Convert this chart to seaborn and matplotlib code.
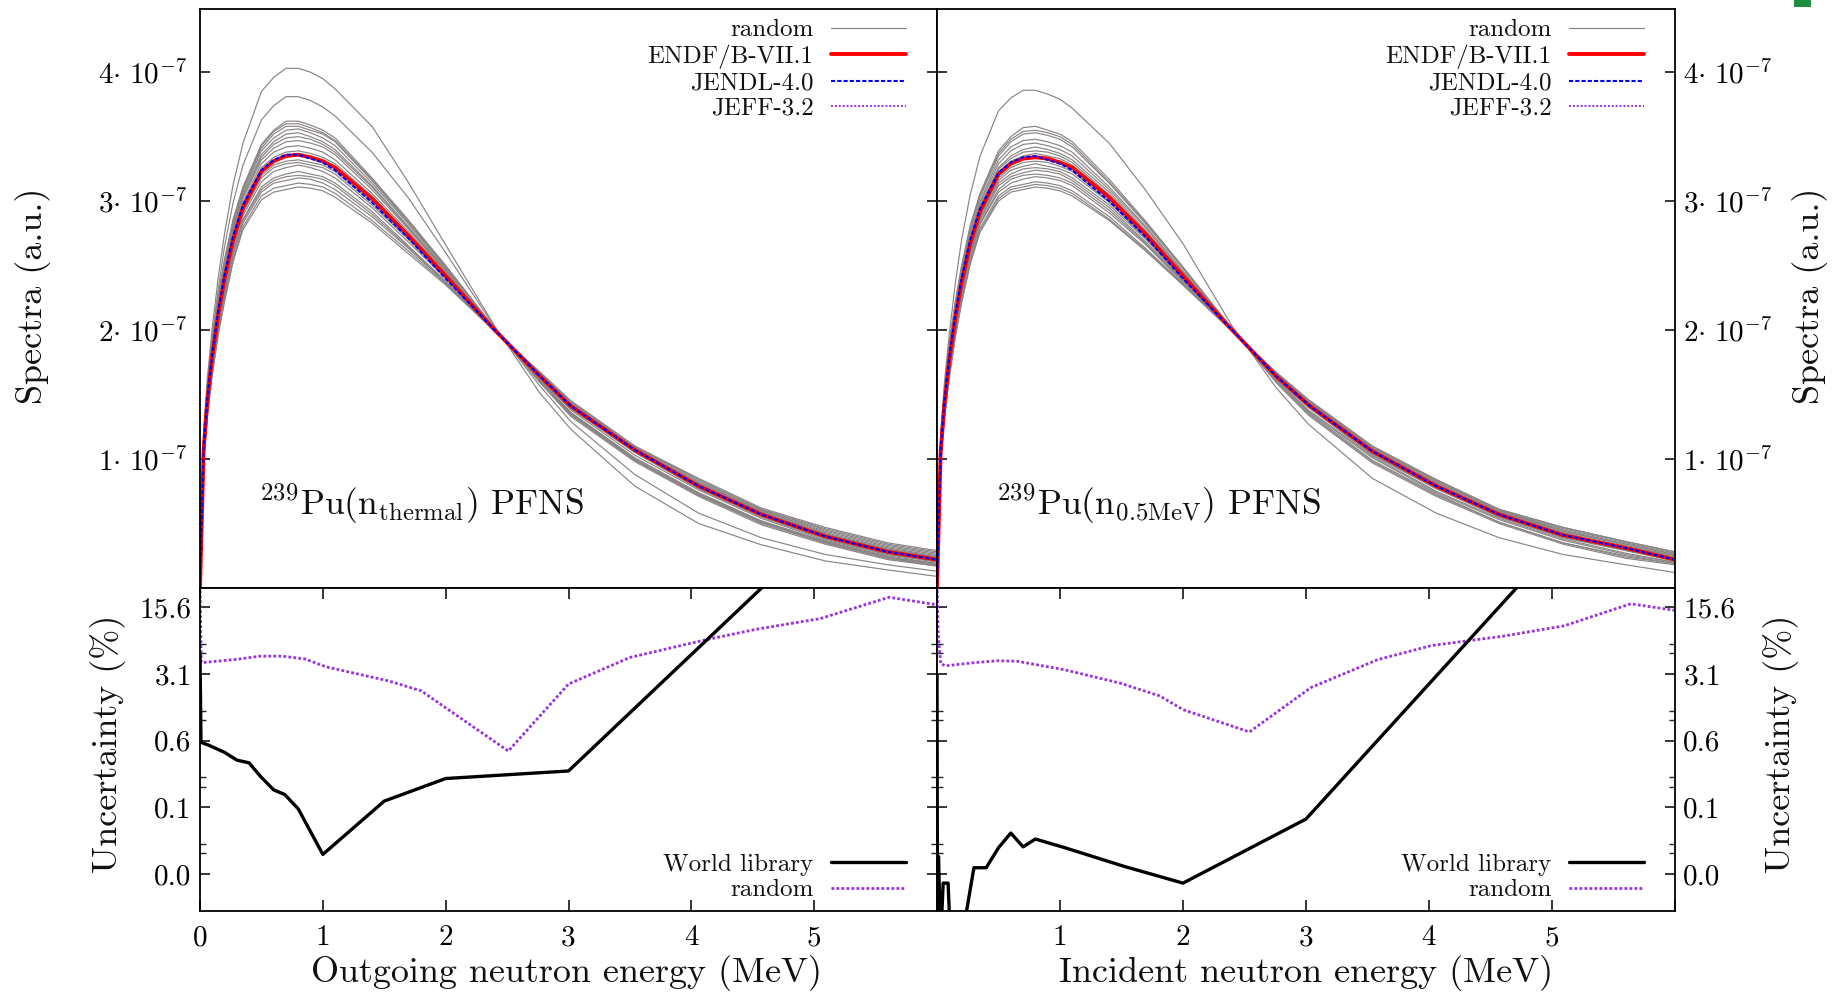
import numpy as np
import pandas as pd
import matplotlib
matplotlib.use('Agg')
import matplotlib.pyplot as plt
import seaborn as sns
from matplotlib.lines import Line2D
from matplotlib.patches import Rectangle
from matplotlib.ticker import FixedLocator, FixedFormatter, NullFormatter

sns.set_theme(style='white')
plt.rcParams['font.family'] = ['cmr10', 'DejaVu Serif']
plt.rcParams['mathtext.fontset'] = 'cm'
plt.rcParams['axes.formatter.use_mathtext'] = True
plt.rcParams['axes.unicode_minus'] = False

# ---------------- data (spectra in units of 1e-7) ----------------
E_GRID = [0.0, 0.03, 0.06, 0.1, 0.15, 0.2, 0.27, 0.35, 0.5, 0.6, 0.7, 0.8, 0.9, 1.0,
          1.1, 1.4, 1.7, 2.0, 2.4, 2.76, 3.02, 3.54, 4.06, 4.57, 5.09, 5.6, 6.0]

ENDF_L = [0.00, 1.08, 1.45, 1.80, 2.13, 2.40, 2.70, 2.95, 3.23, 3.31, 3.35, 3.36, 3.34, 3.31,
          3.26, 3.02, 2.73, 2.42, 2.00, 1.65, 1.41, 1.07, 0.79, 0.57, 0.40, 0.28, 0.22]
JENDL_L = [0.00, 1.09, 1.47, 1.82, 2.16, 2.43, 2.73, 2.97, 3.24, 3.32, 3.36, 3.36, 3.33, 3.30,
           3.24, 2.99, 2.71, 2.40, 2.00, 1.65, 1.41, 1.07, 0.79, 0.57, 0.40, 0.28, 0.22]
JEFF_L = [0.00, 1.08, 1.45, 1.80, 2.13, 2.40, 2.70, 2.95, 3.23, 3.31, 3.35, 3.36, 3.34, 3.31,
          3.26, 3.02, 2.73, 2.42, 2.00, 1.65, 1.41, 1.07, 0.79, 0.57, 0.40, 0.28, 0.22]

RANDOM_L = [
    [0, 1.18, 1.57, 1.95, 2.28, 2.55, 2.86, 3.11, 3.44, 3.55, 3.62, 3.62, 3.59, 3.55, 3.49, 3.18, 2.85, 2.50, 2.01, 1.60, 1.33, 0.98, 0.71, 0.49, 0.34, 0.22, 0.17],
    [0, 1.17, 1.56, 1.94, 2.27, 2.54, 2.85, 3.10, 3.43, 3.54, 3.60, 3.60, 3.57, 3.53, 3.47, 3.17, 2.84, 2.50, 2.01, 1.61, 1.35, 1.00, 0.73, 0.51, 0.36, 0.24, 0.18],
    [0, 1.17, 1.55, 1.93, 2.26, 2.53, 2.84, 3.09, 3.41, 3.52, 3.58, 3.58, 3.55, 3.52, 3.46, 3.16, 2.83, 2.49, 2.01, 1.61, 1.34, 0.99, 0.72, 0.50, 0.35, 0.23, 0.17],
    [0, 1.15, 1.54, 1.91, 2.24, 2.51, 2.82, 3.07, 3.39, 3.49, 3.55, 3.56, 3.53, 3.49, 3.43, 3.14, 2.82, 2.48, 2.01, 1.61, 1.35, 0.99, 0.72, 0.51, 0.35, 0.23, 0.18],
    [0, 1.14, 1.52, 1.89, 2.22, 2.49, 2.80, 3.05, 3.36, 3.46, 3.52, 3.53, 3.50, 3.46, 3.40, 3.12, 2.80, 2.47, 2.01, 1.62, 1.36, 1.01, 0.74, 0.52, 0.36, 0.24, 0.19],
    [0, 1.13, 1.51, 1.88, 2.21, 2.48, 2.79, 3.04, 3.34, 3.44, 3.49, 3.50, 3.48, 3.44, 3.38, 3.11, 2.79, 2.46, 2.00, 1.62, 1.36, 1.00, 0.73, 0.52, 0.36, 0.25, 0.19],
    [0, 1.12, 1.50, 1.86, 2.19, 2.46, 2.77, 3.02, 3.32, 3.41, 3.46, 3.47, 3.45, 3.42, 3.36, 3.09, 2.78, 2.45, 2.00, 1.63, 1.38, 1.03, 0.76, 0.54, 0.37, 0.26, 0.20],
    [0, 1.11, 1.48, 1.84, 2.17, 2.44, 2.74, 2.99, 3.29, 3.38, 3.42, 3.43, 3.41, 3.38, 3.32, 3.06, 2.76, 2.44, 2.00, 1.64, 1.39, 1.05, 0.77, 0.55, 0.38, 0.26, 0.21],
    [0, 1.09, 1.47, 1.82, 2.15, 2.42, 2.72, 2.97, 3.26, 3.34, 3.38, 3.39, 3.37, 3.34, 3.29, 3.04, 2.74, 2.43, 2.00, 1.64, 1.40, 1.06, 0.78, 0.56, 0.39, 0.27, 0.21],
    [0, 1.08, 1.45, 1.80, 2.13, 2.40, 2.70, 2.95, 3.23, 3.31, 3.35, 3.35, 3.34, 3.31, 3.26, 3.02, 2.73, 2.42, 2.00, 1.65, 1.41, 1.08, 0.80, 0.58, 0.41, 0.30, 0.24],
    [0, 1.07, 1.43, 1.78, 2.11, 2.37, 2.67, 2.92, 3.20, 3.28, 3.31, 3.32, 3.30, 3.28, 3.23, 2.99, 2.71, 2.41, 2.00, 1.65, 1.42, 1.08, 0.80, 0.58, 0.41, 0.29, 0.23],
    [0, 1.06, 1.42, 1.77, 2.10, 2.36, 2.66, 2.91, 3.18, 3.26, 3.29, 3.30, 3.28, 3.26, 3.21, 2.97, 2.70, 2.41, 2.00, 1.66, 1.43, 1.09, 0.81, 0.59, 0.42, 0.30, 0.24],
    [0, 1.05, 1.41, 1.75, 2.08, 2.34, 2.64, 2.89, 3.15, 3.23, 3.26, 3.28, 3.26, 3.23, 3.18, 2.95, 2.68, 2.40, 2.00, 1.66, 1.42, 1.09, 0.81, 0.59, 0.42, 0.30, 0.24],
    [0, 1.03, 1.38, 1.72, 2.04, 2.30, 2.61, 2.86, 3.11, 3.18, 3.21, 3.23, 3.21, 3.19, 3.14, 2.92, 2.65, 2.38, 1.99, 1.67, 1.43, 1.09, 0.82, 0.60, 0.44, 0.32, 0.26],
    [0, 1.02, 1.37, 1.71, 2.03, 2.29, 2.60, 2.85, 3.09, 3.16, 3.19, 3.20, 3.19, 3.17, 3.12, 2.90, 2.64, 2.37, 1.99, 1.66, 1.43, 1.08, 0.81, 0.60, 0.43, 0.31, 0.25],
    [0, 1.01, 1.36, 1.69, 2.01, 2.27, 2.58, 2.83, 3.07, 3.14, 3.16, 3.18, 3.17, 3.14, 3.09, 2.88, 2.63, 2.37, 1.99, 1.67, 1.44, 1.10, 0.83, 0.61, 0.45, 0.33, 0.27],
    [0, 0.99, 1.34, 1.67, 1.99, 2.24, 2.55, 2.80, 3.04, 3.10, 3.12, 3.14, 3.13, 3.11, 3.06, 2.85, 2.61, 2.36, 1.99, 1.68, 1.45, 1.10, 0.84, 0.61, 0.46, 0.34, 0.28],
    [0, 0.98, 1.33, 1.65, 1.97, 2.22, 2.53, 2.78, 3.01, 3.07, 3.09, 3.11, 3.10, 3.08, 3.03, 2.83, 2.59, 2.35, 1.99, 1.68, 1.45, 1.10, 0.85, 0.62, 0.47, 0.35, 0.29],
    [0, 1.22, 1.63, 2.02, 2.42, 2.75, 3.13, 3.45, 3.85, 3.96, 4.03, 4.03, 4.00, 3.95, 3.87, 3.58, 3.14, 2.66, 2.03, 1.52, 1.23, 0.79, 0.50, 0.335, 0.21, 0.14, 0.09],
    [0, 1.18, 1.57, 1.95, 2.33, 2.65, 2.99, 3.28, 3.63, 3.74, 3.81, 3.81, 3.78, 3.73, 3.66, 3.38, 3.02, 2.60, 2.02, 1.575, 1.29, 0.88, 0.58, 0.39, 0.26, 0.18, 0.13],
]

ENDF_R = [0.00, 1.06, 1.42, 1.77, 2.10, 2.37, 2.67, 2.92, 3.21, 3.29, 3.33, 3.34, 3.33, 3.30,
          3.26, 3.03, 2.74, 2.42, 2.00, 1.64, 1.42, 1.06, 0.79, 0.57, 0.41, 0.31, 0.22]
JENDL_R = [0.00, 1.07, 1.44, 1.79, 2.13, 2.40, 2.70, 2.94, 3.22, 3.30, 3.34, 3.35, 3.32, 3.29,
           3.24, 3.00, 2.72, 2.40, 2.00, 1.64, 1.42, 1.06, 0.79, 0.57, 0.41, 0.31, 0.22]
JEFF_R = [0.00, 1.06, 1.42, 1.77, 2.10, 2.37, 2.67, 2.92, 3.21, 3.29, 3.33, 3.34, 3.33, 3.30,
          3.26, 3.03, 2.74, 2.42, 2.00, 1.64, 1.42, 1.06, 0.79, 0.57, 0.41, 0.31, 0.22]

RANDOM_R = [
    [0, 1.15, 1.53, 1.90, 2.23, 2.50, 2.81, 3.06, 3.39, 3.50, 3.57, 3.58, 3.55, 3.52, 3.46, 3.17, 2.84, 2.49, 2.01, 1.59, 1.34, 0.97, 0.71, 0.50, 0.34, 0.23, 0.18],
    [0, 1.14, 1.52, 1.89, 2.22, 2.49, 2.80, 3.05, 3.37, 3.48, 3.54, 3.55, 3.53, 3.50, 3.44, 3.15, 2.83, 2.48, 2.01, 1.60, 1.35, 0.98, 0.72, 0.51, 0.35, 0.24, 0.19],
    [0, 1.13, 1.51, 1.87, 2.20, 2.47, 2.78, 3.03, 3.35, 3.46, 3.52, 3.53, 3.51, 3.48, 3.42, 3.14, 2.82, 2.48, 2.01, 1.60, 1.36, 0.99, 0.73, 0.51, 0.35, 0.25, 0.19],
    [0, 1.11, 1.49, 1.85, 2.18, 2.45, 2.75, 3.00, 3.32, 3.42, 3.47, 3.48, 3.46, 3.43, 3.38, 3.11, 2.80, 2.46, 2.01, 1.61, 1.37, 1.01, 0.74, 0.53, 0.37, 0.26, 0.20],
    [0, 1.10, 1.47, 1.83, 2.16, 2.43, 2.73, 2.98, 3.29, 3.39, 3.44, 3.45, 3.43, 3.40, 3.35, 3.09, 2.79, 2.45, 2.00, 1.62, 1.38, 1.02, 0.75, 0.54, 0.38, 0.27, 0.20],
    [0, 1.09, 1.46, 1.81, 2.14, 2.41, 2.71, 2.96, 3.26, 3.35, 3.40, 3.42, 3.40, 3.37, 3.32, 3.07, 2.77, 2.44, 2.00, 1.63, 1.40, 1.03, 0.77, 0.55, 0.39, 0.29, 0.21],
    [0, 1.08, 1.45, 1.80, 2.13, 2.40, 2.70, 2.95, 3.25, 3.33, 3.38, 3.39, 3.38, 3.35, 3.30, 3.05, 2.76, 2.44, 2.00, 1.64, 1.41, 1.04, 0.77, 0.56, 0.40, 0.29, 0.22],
    [0, 1.07, 1.43, 1.78, 2.11, 2.38, 2.68, 2.93, 3.23, 3.31, 3.35, 3.37, 3.35, 3.33, 3.28, 3.04, 2.75, 2.43, 2.00, 1.64, 1.41, 1.05, 0.78, 0.56, 0.40, 0.30, 0.22],
    [0, 1.06, 1.42, 1.76, 2.09, 2.36, 2.66, 2.91, 3.20, 3.28, 3.32, 3.34, 3.32, 3.30, 3.25, 3.02, 2.73, 2.42, 2.00, 1.64, 1.42, 1.06, 0.79, 0.57, 0.41, 0.31, 0.22],
    [0, 1.05, 1.41, 1.75, 2.08, 2.34, 2.64, 2.89, 3.18, 3.26, 3.30, 3.31, 3.30, 3.27, 3.23, 3.00, 2.72, 2.41, 2.00, 1.65, 1.43, 1.07, 0.80, 0.58, 0.42, 0.32, 0.23],
    [0, 1.04, 1.40, 1.74, 2.07, 2.33, 2.63, 2.88, 3.16, 3.24, 3.27, 3.29, 3.27, 3.25, 3.21, 2.99, 2.71, 2.40, 2.00, 1.65, 1.43, 1.07, 0.80, 0.58, 0.42, 0.32, 0.24],
    [0, 1.03, 1.39, 1.72, 2.05, 2.31, 2.61, 2.86, 3.14, 3.21, 3.25, 3.26, 3.25, 3.23, 3.18, 2.97, 2.70, 2.40, 2.00, 1.65, 1.43, 1.07, 0.80, 0.59, 0.43, 0.32, 0.25],
    [0, 1.02, 1.38, 1.71, 2.04, 2.30, 2.60, 2.85, 3.12, 3.19, 3.22, 3.24, 3.23, 3.21, 3.16, 2.95, 2.68, 2.39, 1.99, 1.65, 1.44, 1.08, 0.81, 0.59, 0.44, 0.33, 0.25],
    [0, 1.01, 1.36, 1.70, 2.02, 2.28, 2.58, 2.83, 3.09, 3.17, 3.20, 3.21, 3.20, 3.18, 3.14, 2.93, 2.67, 2.38, 1.99, 1.66, 1.44, 1.09, 0.82, 0.60, 0.44, 0.34, 0.26],
    [0, 1.00, 1.35, 1.68, 2.01, 2.27, 2.57, 2.82, 3.07, 3.14, 3.17, 3.19, 3.18, 3.16, 3.12, 2.91, 2.66, 2.37, 1.99, 1.66, 1.45, 1.09, 0.82, 0.60, 0.45, 0.34, 0.26],
    [0, 0.99, 1.33, 1.65, 1.98, 2.24, 2.54, 2.79, 3.04, 3.11, 3.13, 3.15, 3.14, 3.12, 3.08, 2.88, 2.63, 2.36, 1.99, 1.67, 1.45, 1.09, 0.83, 0.60, 0.46, 0.35, 0.27],
    [0, 0.98, 1.32, 1.64, 1.96, 2.22, 2.52, 2.77, 3.02, 3.09, 3.11, 3.13, 3.12, 3.10, 3.06, 2.86, 2.62, 2.35, 1.99, 1.67, 1.46, 1.10, 0.84, 0.61, 0.47, 0.36, 0.28],
    [0, 0.97, 1.31, 1.63, 1.95, 2.21, 2.51, 2.76, 3.00, 3.07, 3.09, 3.11, 3.10, 3.08, 3.04, 2.85, 2.61, 2.35, 1.99, 1.67, 1.46, 1.10, 0.84, 0.61, 0.47, 0.36, 0.28],
    [0, 1.20, 1.59, 1.97, 2.37, 2.70, 3.05, 3.35, 3.70, 3.80, 3.86, 3.86, 3.83, 3.79, 3.72, 3.45, 3.08, 2.67, 2.03, 1.55, 1.27, 0.85, 0.58, 0.39, 0.26, 0.18, 0.12],
]

# ---------------- uncertainty data (%) ----------------
WORLD_L_E = [0.0, 0.008, 0.07, 0.2, 0.3, 0.4, 0.49, 0.6, 0.69, 0.8, 1.0, 1.5, 2.0, 3.0, 5.0]
WORLD_L = [5.0, 0.60, 0.56, 0.47, 0.39, 0.365, 0.265, 0.19, 0.17, 0.12, 0.04, 0.145, 0.25, 0.30, 83.0]
RUNC_L_E = [0.0, 0.01, 0.3, 0.49, 0.67, 0.85, 1.03, 1.53, 1.8, 2.0, 2.51, 3.0, 3.5, 4.09, 4.53, 5.05, 5.61, 6.0]
RUNC_L = [30.0, 4.1, 4.45, 4.8, 4.8, 4.5, 3.7, 2.65, 2.08, 1.38, 0.485, 2.45, 4.65, 7.0, 9.2, 11.9, 19.9, 16.6]

WORLD_R_E = [0.0, 0.004, 0.012, 0.03, 0.05, 0.09, 0.11, 0.2, 0.3, 0.4, 0.5, 0.6, 0.7, 0.8, 1.04, 1.52, 2.0, 3.0, 5.0]
WORLD_R = [3.1, 0.005, 0.038, 0.005, 0.02, 0.02, 0.005, 0.005, 0.029, 0.029, 0.047, 0.067, 0.048, 0.058, 0.047, 0.03, 0.02, 0.094, 64.0]
RUNC_R_E = [0.0, 0.01, 0.03, 0.07, 0.3, 0.5, 0.65, 1.04, 1.49, 1.81, 2.0, 2.54, 3.04, 3.58, 4.02, 4.61, 5.10, 5.64, 6.0]
RUNC_R = [30.0, 8.0, 4.0, 3.8, 4.1, 4.3, 4.25, 3.45, 2.5, 1.84, 1.32, 0.77, 2.25, 4.4, 6.2, 7.8, 10.0, 17.0, 14.5]

# ticks / labels
SPEC_TICKS = [1e-7, 2e-7, 3e-7, 4e-7]
SPEC_LABELS = [r'$1{\cdot}\ 10^{-7}$', r'$2{\cdot}\ 10^{-7}$', r'$3{\cdot}\ 10^{-7}$', r'$4{\cdot}\ 10^{-7}$']
UNC_TICKS = [0.025, 0.125, 0.625, 3.125, 15.625]
UNC_LABELS = ['0.0', '0.1', '0.6', '3.1', '15.6']
UNC_MINOR = [0.041, 0.0515, 0.205, 0.2575, 1.025, 1.2875, 5.125, 6.4375]
X_TICKS = [0, 1, 2, 3, 4, 5, 6]
X_LABELS_L = ['0', '1', '2', '3', '4', '5', '']
X_LABELS_R = ['', '1', '2', '3', '4', '5', '']

GRAY = '#8a8484'
RED = '#ff0000'
BLUE = '#0000ff'
PURPLE = '#9b30e0'

TICK_FS = 21
LEG_FS = 18
LAB_FS = 26


def random_frame(curves):
    rows = []
    for i, c in enumerate(curves):
        for e, v in zip(E_GRID, c):
            rows.append((i, e, v * 1e-7))
    return pd.DataFrame(rows, columns=['run', 'E', 'S'])


def single_frame(vals):
    return pd.DataFrame({'E': E_GRID, 'S': [v * 1e-7 for v in vals]})


fig = plt.figure(figsize=(18.43, 9.96), dpi=100)
axTL = fig.add_axes([0.10852, 0.40964, 0.39989, 0.58133])
axTR = fig.add_axes([0.50841, 0.40964, 0.40043, 0.58133])
axBL = fig.add_axes([0.10852, 0.08534, 0.39989, 0.32430])
axBR = fig.add_axes([0.50841, 0.08534, 0.40043, 0.32430])

# ---------------- top panels ----------------
for ax, rnd, endf, jendl, jeff, txt in [
        (axTL, RANDOM_L, ENDF_L, JENDL_L, JEFF_L, r'$^{239}$Pu(n$_{\mathrm{thermal}}$) PFNS'),
        (axTR, RANDOM_R, ENDF_R, JENDL_R, JEFF_R, r'$^{239}$Pu(n$_{\mathrm{0.5MeV}}$) PFNS')]:
    sns.lineplot(data=random_frame(rnd), x='E', y='S', units='run', estimator=None,
                 color=GRAY, linewidth=0.85, ax=ax, legend=False, sort=False)
    sns.lineplot(data=single_frame(jeff), x='E', y='S', color=PURPLE, linewidth=1.4,
                 linestyle=(0, (1, 1)), ax=ax, legend=False, sort=False)
    sns.lineplot(data=single_frame(endf), x='E', y='S', color=RED, linewidth=2.8,
                 ax=ax, legend=False, sort=False)
    sns.lineplot(data=single_frame(jendl), x='E', y='S', color=BLUE, linewidth=1.5,
                 linestyle=(0, (2, 1)), ax=ax, legend=False, sort=False)
    ax.set_xlim(0, 6)
    ax.set_ylim(0, 4.49e-7)
    ax.set_xticks([])
    ax.set_xlabel('')
    ax.yaxis.set_major_locator(FixedLocator(SPEC_TICKS))
    ax.yaxis.set_major_formatter(FixedFormatter(SPEC_LABELS))
    ax.tick_params(axis='y', which='major', direction='in', length=7, width=1.1,
                   left=True, right=True, labelsize=TICK_FS, colors='black')
    ax.text(0.0795, 0.126, txt, transform=ax.transAxes, fontsize=25.5,
            ha='left', va='baseline', color='#111111')
    handles = [Line2D([], [], color=GRAY, lw=0.85),
               Line2D([], [], color=RED, lw=2.8),
               Line2D([], [], color=BLUE, lw=1.5, ls=(0, (2, 1))),
               Line2D([], [], color=PURPLE, lw=1.4, ls=(0, (1, 1)))]
    leg = ax.legend(handles, ['random', 'ENDF/B-VII.1', 'JENDL-4.0', 'JEFF-3.2'],
                    loc='upper right', bbox_to_anchor=(0.958, 0.983), frameon=False,
                    markerfirst=False, fontsize=LEG_FS, handlelength=3.0,
                    handletextpad=0.7, labelspacing=0.12, borderpad=0, borderaxespad=0)
    for t in leg.get_texts():
        t.set_color('#111111')

axTL.tick_params(axis='y', labelleft=True, labelright=False, pad=9)
axTR.tick_params(axis='y', labelleft=False, labelright=True, pad=6)

axTL.set_ylabel('Spectra (a.u.)', fontsize=LAB_FS, va='center', color='#111111')
axTL.yaxis.set_label_coords(-0.2266, 0.504)
axTR.yaxis.set_label_position('right')
axTR.set_ylabel('Spectra (a.u.)', fontsize=LAB_FS, va='center', rotation=90, color='#111111')
axTR.yaxis.set_label_coords(1.183, 0.504)

# ---------------- bottom panels ----------------
for ax, we, wv, re_, rv, xl in [
        (axBL, WORLD_L_E, WORLD_L, RUNC_L_E, RUNC_L, X_LABELS_L),
        (axBR, WORLD_R_E, WORLD_R, RUNC_R_E, RUNC_R, X_LABELS_R)]:
    ax.set_yscale('log', base=5)
    sns.lineplot(data=pd.DataFrame({'E': re_, 'U': rv}), x='E', y='U', color=PURPLE,
                 linewidth=2.0, linestyle=(0, (1, 0.8)), ax=ax, legend=False, sort=False)
    sns.lineplot(data=pd.DataFrame({'E': we, 'U': wv}), x='E', y='U', color='black',
                 linewidth=2.4, ax=ax, legend=False, sort=False)
    ax.set_xlim(0, 6)
    ax.set_ylim(0.0102, 24.9)
    ax.yaxis.set_major_locator(FixedLocator(UNC_TICKS))
    ax.yaxis.set_major_formatter(FixedFormatter(UNC_LABELS))
    ax.yaxis.set_minor_locator(FixedLocator(UNC_MINOR))
    ax.yaxis.set_minor_formatter(NullFormatter())
    ax.xaxis.set_major_locator(FixedLocator(X_TICKS))
    ax.xaxis.set_major_formatter(FixedFormatter(xl))
    ax.tick_params(axis='x', which='major', direction='in', length=8, width=1.1,
                   top=True, bottom=True, labelsize=TICK_FS, pad=10, colors='black')
    ax.tick_params(axis='y', which='major', direction='in', length=7, width=1.1,
                   left=True, right=True, labelsize=TICK_FS, colors='black')
    ax.tick_params(axis='y', which='minor', direction='in', length=4, width=1.0,
                   left=True, right=True)
    handles = [Line2D([], [], color='black', lw=2.4),
               Line2D([], [], color=PURPLE, lw=2.0, ls=(0, (1, 0.8)))]
    leg = ax.legend(handles, ['World library', 'random'], loc='lower right',
                    bbox_to_anchor=(0.958, 0.03), frameon=False, markerfirst=False,
                    fontsize=LEG_FS, handlelength=3.0, handletextpad=0.7,
                    labelspacing=0.12, borderpad=0, borderaxespad=0)
    for t in leg.get_texts():
        t.set_color('#111111')

axBL.tick_params(axis='y', labelleft=True, labelright=False, pad=6)
axBR.tick_params(axis='y', labelleft=False, labelright=True, pad=6)

axBL.set_ylabel('Uncertainty (%)', fontsize=LAB_FS, va='center', color='#111111')
axBL.yaxis.set_label_coords(-0.125, 0.519)
axBR.yaxis.set_label_position('right')
axBR.set_ylabel('Uncertainty (%)', fontsize=LAB_FS, va='center', rotation=90, color='#111111')
axBR.yaxis.set_label_coords(1.1436, 0.519)

axBL.set_xlabel('Outgoing neutron energy (MeV)', fontsize=LAB_FS, va='center', color='#111111')
axBL.xaxis.set_label_coords(0.497, -0.192)
axBR.set_xlabel('Incident neutron energy (MeV)', fontsize=LAB_FS, va='center', color='#111111')
axBR.xaxis.set_label_coords(0.5007, -0.192)

for ax in (axTL, axTR, axBL, axBR):
    for s in ax.spines.values():
        s.set_visible(True)
        s.set_color('black')
        s.set_linewidth(1.3)

fig.add_artist(Rectangle((1794 / 1843, 1 - 7 / 996), 17 / 1843, 7 / 996,
                         transform=fig.transFigure, color='#1f8f3f', lw=0))

fig.savefig('out.png', dpi=100)
